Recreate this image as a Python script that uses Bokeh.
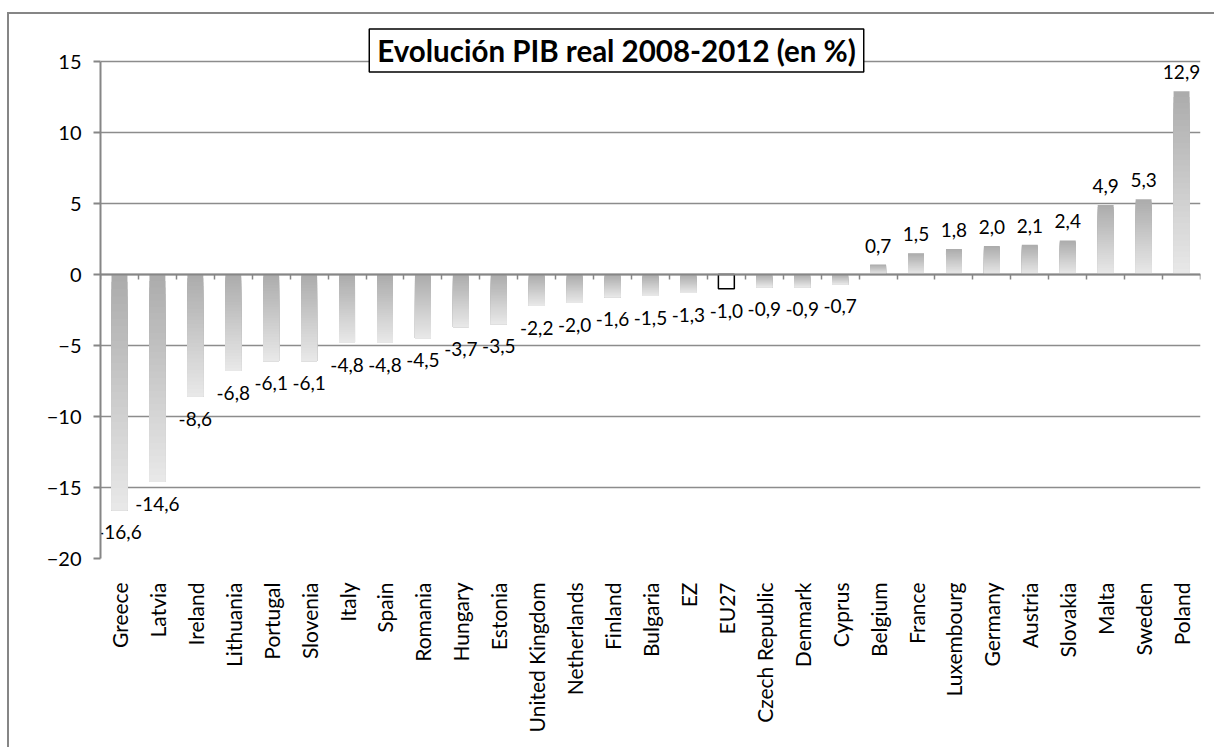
import math
from bokeh.plotting import figure
from bokeh.models import Range1d, FixedTicker, LinearAxis, Label, ColumnDataSource
from bokeh.core.properties import value
from bokeh.embed import file_html
from bokeh.resources import INLINE

# Real GDP change 2008-2012, percent
countries = ["Greece", "Latvia", "Ireland", "Lithuania", "Portugal", "Slovenia",
             "Italy", "Spain", "Romania", "Hungary", "Estonia", "United Kingdom",
             "Netherlands", "Finland", "Bulgaria", "EZ", "EU27", "Czech Republic",
             "Denmark", "Cyprus", "Belgium", "France", "Luxembourg", "Germany",
             "Austria", "Slovakia", "Malta", "Sweden", "Poland"]
gdp_change = [-16.6, -14.6, -8.6, -6.8, -6.1, -6.1, -4.8, -4.8, -4.5, -3.7, -3.5,
              -2.2, -2.0, -1.6, -1.5, -1.3, -1.0, -0.9, -0.9, -0.7, 0.7, 1.5, 1.8,
              2.0, 2.1, 2.4, 4.9, 5.3, 12.9]
highlight = "EU27"
y_ticks = [-20, -15, -10, -5, 0, 5, 10, 15]
title_text = "Evolución PIB real 2008-2012 (en %)"

FONT = "Lato"
AXIS_GREY = "#868686"
GRID_GREY = "#8c8c8c"

n = len(countries)
centers = [i + 0.5 for i in range(n)]
bar_w = 0.42

# the value scale spans 497 px; extra headroom above the top tick holds the title box
axis_px = 497
head_px = 41
y_lo, y_hi = y_ticks[0], y_ticks[-1]
y_top = y_hi + head_px * (y_hi - y_lo) / axis_px

p = figure(frame_width=1100, frame_height=axis_px + head_px,
           x_range=Range1d(0, n), y_range=Range1d(y_lo, y_top),
           output_backend="svg", toolbar_location=None,
           x_axis_location=None, y_axis_location="left",
           min_border_left=91, min_border_top=6, min_border_right=14,
           min_border_bottom=189)
p.background_fill_color = "white"
p.border_fill_color = "white"
p.outline_line_color = None
p.styles = {"margin-left": "7px", "margin-top": "12px",
            "border-left": f"2px solid {AXIS_GREY}",
            "border-top": f"2px solid {AXIS_GREY}"}

# horizontal gridlines
p.xgrid.visible = False
p.ygrid.ticker = FixedTicker(ticks=y_ticks)
p.ygrid.grid_line_color = GRID_GREY
p.ygrid.grid_line_width = 1.5

# value axis
ya = p.yaxis[0]
ya.ticker = FixedTicker(ticks=y_ticks)
ya.bounds = (y_lo, y_hi)
ya.axis_line_color = AXIS_GREY
ya.axis_line_width = 2
ya.major_tick_line_color = AXIS_GREY
ya.major_tick_line_width = 2
ya.major_tick_out = 7
ya.major_tick_in = 0
ya.minor_tick_line_color = None
ya.major_label_standoff = 12
ya.major_label_text_font = FONT
ya.major_label_text_font_size = "20px"
ya.major_label_text_color = "black"

# bars with a vertical grey gradient: dark at the top edge, light at the bottom
steps = 32
dark, light = (0xac, 0xac, 0xac), (0xe8, 0xe8, 0xe8)
xs, tops, bottoms, colors = [], [], [], []
for k in range(steps):
    t = k / (steps - 1)
    col = "#%02x%02x%02x" % tuple(round(dark[j] + (light[j] - dark[j]) * t) for j in range(3))
    for name, x, v in zip(countries, centers, gdp_change):
        if name == highlight:
            continue
        lo, hi = min(0.0, v), max(0.0, v)
        xs.append(x)
        bottoms.append(lo)
        tops.append(hi - (hi - lo) * k / steps)
        colors.append(col)
p.vbar(x=xs, width=bar_w, top=tops, bottom=bottoms, fill_color=colors,
       line_color=None)

# the EU27 aggregate as an outlined white bar
hi_idx = countries.index(highlight)
p.vbar(x=[centers[hi_idx]], width=bar_w, top=[0], bottom=[gdp_change[hi_idx]],
       fill_color="white", line_color="black", line_width=1.5)

# value labels, comma decimal separator
labels = [f"{v:.1f}".replace(".", ",") for v in gdp_change]
pos = ColumnDataSource(dict(x=[c for c, v in zip(centers, gdp_change) if v >= 0],
                            y=[v for v in gdp_change if v >= 0],
                            t=[l for l, v in zip(labels, gdp_change) if v >= 0]))
neg = ColumnDataSource(dict(x=[c for c, v in zip(centers, gdp_change) if v < 0],
                            y=[v for v in gdp_change if v < 0],
                            t=[l for l, v in zip(labels, gdp_change) if v < 0]))
p.text(x="x", y="y", text="t", source=pos, text_align="center",
       text_baseline="bottom", y_offset=-12, text_font=value(FONT),
       text_font_size="19px", text_color="black")
p.text(x="x", y="y", text="t", source=neg, text_align="center",
       text_baseline="top", y_offset=15, text_font=value(FONT),
       text_font_size="19px", text_color="black")

# category axis along the bottom of the frame, labels reading upwards
cat_axis = LinearAxis(ticker=FixedTicker(ticks=centers),
                      major_label_overrides={c: name for c, name in zip(centers, countries)})
cat_axis.axis_line_color = None
cat_axis.major_tick_line_color = None
cat_axis.minor_tick_line_color = None
cat_axis.major_label_orientation = math.pi / 2
cat_axis.major_label_standoff = 18
cat_axis.major_label_text_font = FONT
cat_axis.major_label_text_font_size = "21px"
cat_axis.major_label_text_color = "black"
p.add_layout(cat_axis, "below")

# zero line with unlabelled tick marks between categories
zero_axis = LinearAxis(ticker=FixedTicker(ticks=[], minor_ticks=list(range(n + 1))),
                       fixed_location=0)
zero_axis.axis_line_color = AXIS_GREY
zero_axis.axis_line_width = 2
zero_axis.major_tick_line_color = None
zero_axis.minor_tick_line_color = AXIS_GREY
zero_axis.minor_tick_line_width = 1.5
zero_axis.minor_tick_out = 5
zero_axis.minor_tick_in = 0
p.add_layout(zero_axis, "below")

# boxed title overlapping the top gridline
title = Label(x=516, y=508, x_units="screen", y_units="screen", text=title_text,
              text_align="center", text_baseline="middle",
              text_font=FONT, text_font_style="bold", text_font_size="29.5px",
              text_color="black", background_fill_color="white",
              border_line_color="black", border_line_width=1.5,
              padding=dict(top=4, bottom=4, left=8, right=8))
p.add_layout(title)

open("out.html", "w").write(file_html(p, INLINE))
